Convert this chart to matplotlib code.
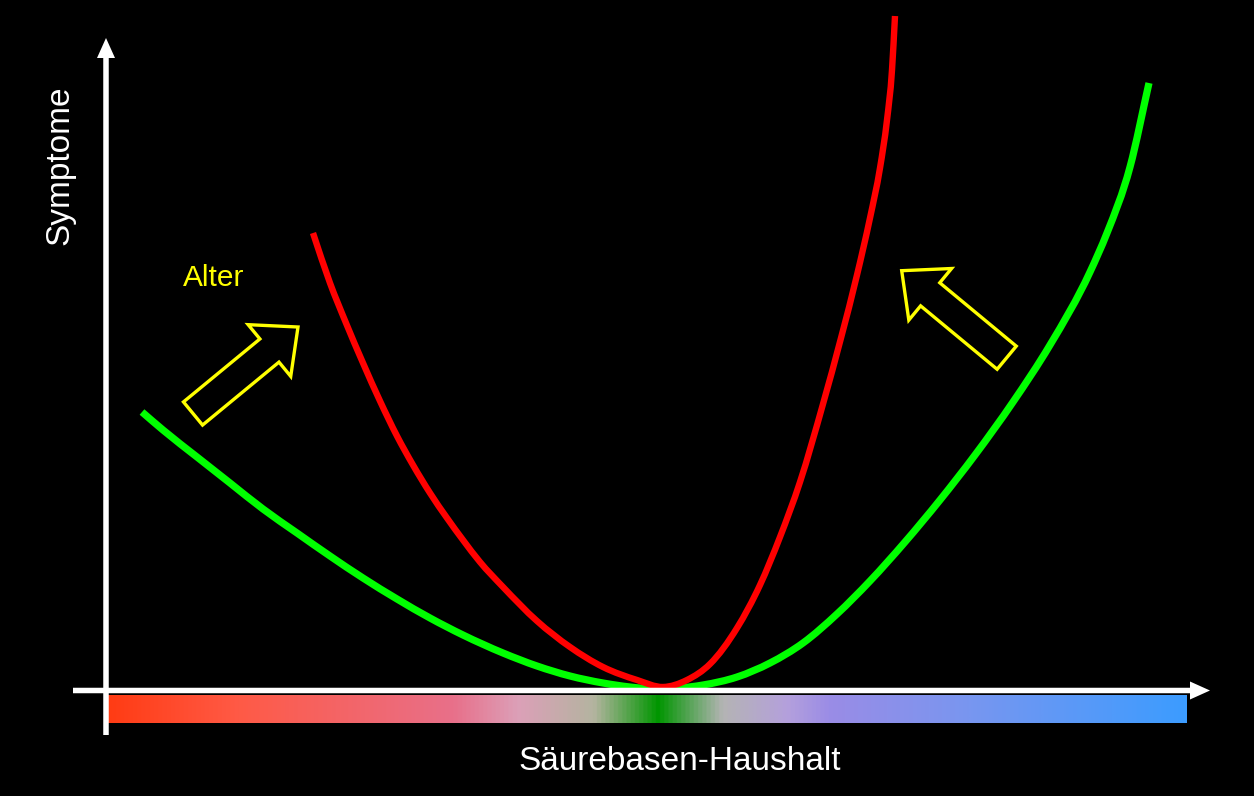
import numpy as np
import matplotlib
matplotlib.use("Agg")
import matplotlib.pyplot as plt
from matplotlib.colors import LinearSegmentedColormap
from matplotlib.patches import FancyArrow, PathPatch
from matplotlib.path import Path

plt.rcParams['font.family'] = ['Liberation Sans', 'DejaVu Sans']

green_x = [142, 163, 197, 230, 263, 297, 330, 363, 397, 430, 463, 503, 537,
           570, 603, 630, 655, 680, 703, 737, 770, 803, 837, 870, 905, 940,
           975, 1013, 1050, 1090, 1107, 1130, 1149]
green_y = [412, 430, 457, 483, 509, 533, 556, 578, 599, 618, 635, 653, 666,
           676, 683, 687, 689, 688, 685, 677, 663, 643, 614, 581, 542, 500,
           455, 402, 345, 272, 233, 167, 83]

red_x = [313, 330, 346, 363, 380, 397, 413, 430, 447, 463, 480, 503, 537,
         570, 603, 637, 663, 687, 710, 737, 760, 780, 800, 823, 841, 857,
         870, 880, 887, 892, 895]
red_y = [233, 283, 323, 363, 401, 436, 465, 493, 518, 540, 562, 587, 621,
         647, 667, 680, 687, 680, 664, 628, 585, 537, 482, 404, 338, 275,
         218, 168, 120, 70, 16]

# Farbverlauf des Säure-Basen-Balkens
bar_pos = [0.0, 0.12, 0.32, 0.38, 0.45, 0.51, 0.57, 0.63, 0.67, 0.80, 1.0]
bar_colors = ['#ff3c14', '#ff5a46', '#e8708a', '#dca0b8', '#b4b4a0', '#009600',
              '#b4b4b4', '#b4a0dc', '#9a8ce6', '#7896f0', '#3c9cff']

# Pfeile "Alter": (Start, Spitze)
age_arrows = [((193, 413.5), (298, 327)),
              ((1006.7, 357.7), (901.7, 270.7))]


def smooth_path(xs, ys):
    # cubic Hermite in x through the read points, drawn as Bezier segments
    x = np.asarray(xs, float)
    y = np.asarray(ys, float)
    h = np.diff(x)
    d = np.diff(y) / h
    m = np.empty_like(x)
    m[0], m[-1] = d[0], d[-1]
    m[1:-1] = (h[:-1] * d[1:] + h[1:] * d[:-1]) / (h[:-1] + h[1:])
    verts = [(x[0], y[0])]
    codes = [Path.MOVETO]
    for i in range(len(x) - 1):
        verts += [(x[i] + h[i] / 3, y[i] + m[i] * h[i] / 3),
                  (x[i + 1] - h[i] / 3, y[i + 1] - m[i + 1] * h[i] / 3),
                  (x[i + 1], y[i + 1])]
        codes += [Path.CURVE4] * 3
    return Path(verts, codes)


W, H = 1254, 796
fig = plt.figure(figsize=(W / 100, H / 100), dpi=100, facecolor='black')
ax = fig.add_axes([0, 0, 1, 1])
ax.set_facecolor('black')
ax.set_xlim(0, W)
ax.set_ylim(H, 0)
ax.axis('off')

# color bar
cmap = LinearSegmentedColormap.from_list('sb', list(zip(bar_pos, bar_colors)))
grad = np.linspace(0, 1, 512).reshape(1, -1)
ax.imshow(grad, cmap=cmap, aspect='auto', extent=(108, 1187, 723, 695), zorder=1)

# curves
ax.add_patch(PathPatch(smooth_path(green_x, green_y), fill=False, ec='#00ff00',
                       lw=5.2, capstyle='butt', joinstyle='round', zorder=3))
ax.add_patch(PathPatch(smooth_path(red_x, red_y), fill=False, ec='#ff0000',
                       lw=4.6, capstyle='butt', joinstyle='round', zorder=3))

# axes with arrow heads
ax.add_patch(FancyArrow(106, 735, 0, 38 - 735, width=5.5, head_width=18,
                        head_length=20, length_includes_head=True,
                        color='white', lw=0, zorder=5))
ax.add_patch(FancyArrow(73, 690.5, 1210 - 73, 0, width=5.5, head_width=18,
                        head_length=20, length_includes_head=True,
                        color='white', lw=0, zorder=5))

# hollow yellow arrows
for (x0, y0), (x1, y1) in age_arrows:
    ax.add_patch(FancyArrow(x0, y0, x1 - x0, y1 - y0, width=30, head_width=67,
                            head_length=37, length_includes_head=True,
                            fill=False, ec='#ffff00', lw=2.4,
                            joinstyle='miter', zorder=4))

ax.text(213.5, 278, 'Alter', color='#ffff00', fontsize=21.5, ha='center', va='center')
ax.text(60, 165, 'Symptome', color='white', fontsize=24, rotation=90,
        ha='center', va='center')
ax.text(680, 762, 'Säurebasen-Haushalt', color='white', fontsize=24,
        ha='center', va='center')

fig.savefig('out.png', dpi=100, facecolor='black')
